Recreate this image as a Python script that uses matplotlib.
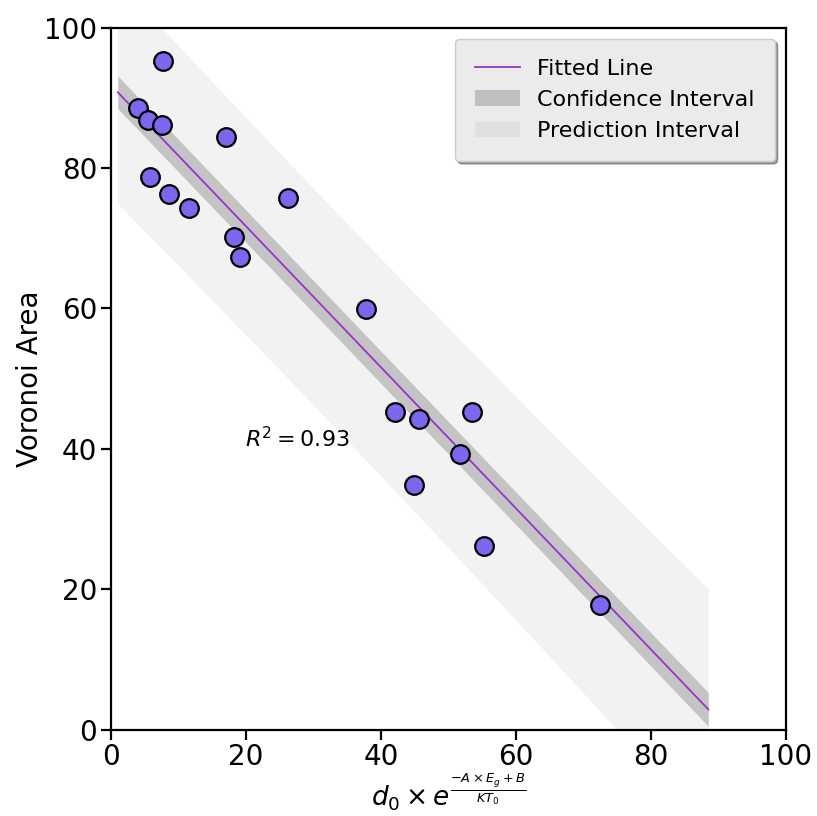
import numpy as np
import matplotlib
matplotlib.use("Agg")
import matplotlib.pyplot as plt
from matplotlib.patches import Patch
from matplotlib.lines import Line2D

# values
x_vals = [7.7, 4.0, 5.5, 7.6, 17.0, 5.8, 8.6, 11.6, 18.2, 19.1,
          26.2, 37.8, 42.1, 45.6, 53.5, 51.7, 44.9, 55.3, 72.4]
y_vals = [95.3, 88.5, 86.8, 86.2, 84.4, 78.7, 76.3, 74.3, 70.2, 67.4,
          75.7, 59.9, 45.2, 44.3, 45.2, 39.3, 34.8, 26.2, 17.7]

# fitted line and band parameters as shown in the picture
fit_slope = -1.005
fit_intercept = 91.8
fit_start, fit_end = 1.0, 88.5
band_center = 30.0
ci_min, ci_grow = 2.3, 0.012
pi_min, pi_grow = 15.45, 0.129
r2_text = "$R^2 = 0.93$"

x = np.array(x_vals)
y = np.array(y_vals)

x_fit = np.linspace(fit_start, fit_end, 200)
y_fit = fit_slope * x_fit + fit_intercept
ci = np.sqrt(ci_min ** 2 + (ci_grow * (x_fit - band_center)) ** 2)
pi = np.sqrt(pi_min ** 2 + (pi_grow * (x_fit - band_center)) ** 2)

fig = plt.figure(figsize=(8.17, 8.16), dpi=100)
ax = fig.add_axes([0.136, 0.106, 0.826, 0.860])

ax.fill_between(x_fit, y_fit - pi, y_fit + pi, color="gray", alpha=0.1, lw=0)
ax.fill_between(x_fit, y_fit - ci, y_fit + ci, color="gray", alpha=0.4, lw=0)
ax.plot(x_fit, y_fit, color="darkorchid", lw=1.3)
ax.scatter(x, y, s=180, color="mediumslateblue", edgecolor="black",
           linewidth=1.6, zorder=3)

ax.text(19.8, 41.5, r2_text, fontsize=16, va="center")

ax.set_xlim(0, 100)
ax.set_ylim(0, 100)
ax.set_xticks([0, 20, 40, 60, 80, 100])
ax.set_yticks([0, 20, 40, 60, 80, 100])
ax.tick_params(labelsize=20, width=1.6, length=7, pad=3)
for sp in ax.spines.values():
    sp.set_linewidth(1.6)

ax.set_xlabel(r"$d_0 \times e^{\frac{-A \times E_g + B}{KT_0}}$", fontsize=19,
              labelpad=0)
ax.set_ylabel("Voronoi Area", fontsize=20, labelpad=0)

handles = [
    Line2D([0], [0], color="darkorchid", lw=1.3),
    Patch(facecolor="gray", alpha=0.4, edgecolor="none"),
    Patch(facecolor="gray", alpha=0.1, edgecolor="none"),
]
leg = ax.legend(handles, ["Fitted Line", "Confidence Interval", "Prediction Interval"],
                loc="upper right", fontsize=16, fancybox=True, shadow=True,
                borderpad=0.9, framealpha=1, borderaxespad=0.5)
leg.get_frame().set_facecolor("#ebebeb")

fig.savefig("out.png", dpi=100)
